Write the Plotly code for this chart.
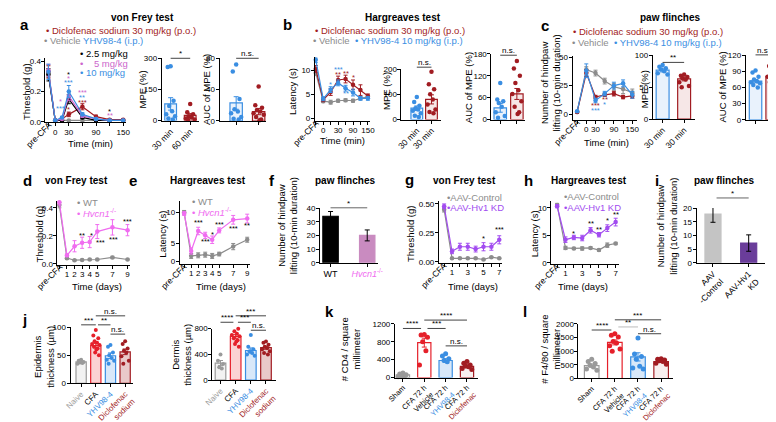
import plotly.graph_objects as go

W, H = 776, 422
FONT = "Liberation Sans, Arial, sans-serif"
DRED = "#a11c22"
GRAY = "#8c8c8c"
BLUE = "#3a8ee2"
PINK5 = "#cc66cc"
HVPINK = "#f06cf0"
PURPLE = "#a24cf0"
DPURPLE = "#6a3d9a"
RED = "#e5202a"
BLACK = "#000000"

# ======================= DATA =======================
# ---- a: von Frey time course (first value = pre-CFA) ----
time_a = [0, 15, 30, 60, 90, 120, 150]
a_vehicle = [0.32, 0.01, 0.01, 0.01, 0.01, 0.01, 0.01, 0.01]
a_vehicle_err = [0.03, 0.003, 0.003, 0.003, 0.003, 0.003, 0.003, 0.003]
a_diclo = [0.33, 0.01, 0.02, 0.05, 0.10, 0.035, 0.015, 0.015]
a_diclo_err = [0.04, 0.003, 0.006, 0.015, 0.02, 0.01, 0.005, 0.005]
a_yhv25 = [0.31, 0.01, 0.01, 0.15, 0.03, 0.01, 0.01, 0.01]
a_yhv25_err = [0.04, 0.003, 0.004, 0.03, 0.008, 0.004, 0.003, 0.003]
a_yhv5 = [0.34, 0.01, 0.02, 0.17, 0.04, 0.02, 0.01, 0.01]
a_yhv5_err = [0.04, 0.003, 0.005, 0.03, 0.01, 0.005, 0.003, 0.003]
a_yhv10 = [0.33, 0.01, 0.03, 0.20, 0.05, 0.02, 0.01, 0.01]
a_yhv10_err = [0.05, 0.003, 0.006, 0.04, 0.01, 0.005, 0.003, 0.003]
a_stars = [(11, 0.135, "*", PINK5), (11, 0.088, "***", BLUE),
           (30, 0.315, "*", BLACK), (30, 0.287, "*", PINK5), (30, 0.258, "***", BLUE),
           (30, 0.08, "*", DRED),
           (60, 0.195, "***", PINK5), (60, 0.16, "**", BLUE), (60, 0.128, "***", DRED),
           (120, 0.072, "*", BLACK), (120, 0.04, "**", PINK5)]
mpe_labels_a = ["30 min", "60 min"]
a_mpe_mean = [80, 25]
a_mpe_sem = [30, 8]
a_mpe_yhv = [262, 258, 95, 70, 45, 30, 20, 10, 5]
a_mpe_diclo = [80, 40, 30, 20, 15, 10, 5, 5]
a_auc_mean = [23, 12]
a_auc_sem = [8, 4]
a_auc_yhv = [72, 63, 28, 15, 12, 10, 5, 3, 2]
a_auc_diclo = [44, 20, 17, 14, 12, 10, 8, 5, 2, 1]

# ---- b: Hargreaves time course (first value = pre-CFA) ----
time_b = [0, 15, 30, 60, 90, 120, 150]
b_vehicle = [9.5, 3.6, 3.4, 3.7, 3.8, 3.7, 4.2, 4.5]
b_vehicle_err = [0.6, 0.3, 0.4, 0.3, 0.3, 0.3, 0.3, 0.3]
b_diclo = [10.3, 3.9, 5.5, 8.0, 8.2, 7.0, 5.9, 4.7]
b_diclo_err = [0.7, 0.4, 0.7, 0.8, 0.8, 1.0, 1.1, 0.4]
b_yhv = [12.2, 4.1, 6.0, 7.4, 6.3, 5.4, 4.2, 4.2]
b_yhv_err = [0.6, 0.4, 0.6, 0.6, 0.6, 0.7, 0.4, 0.4]
b_stars = [(15, 7.1, "*", BLUE), (30, 10.2, "***", BLUE), (30, 9.2, "**", DRED),
           (60, 9.4, "**", DRED), (60, 5.1, "**", BLUE), (90, 8.5, "*", DRED)]
mpe_labels_b = ["30 min", "30 min"]
b_mpe_mean = [45, 80]
b_mpe_sem = [9, 18]
b_mpe_yhv = [90, 70, 55, 45, 40, 35, 25, 15, 10]
b_mpe_diclo = [190, 140, 120, 100, 80, 60, 40, 30, 25]
b_auc_mean = [32, 70]
b_auc_sem = [12, 15]
b_auc_yhv = [100, 55, 50, 45, 35, 20, 10, 5]
b_auc_diclo = [160, 140, 120, 100, 80, 70, 50, 35, 20, 15]

# ---- c: paw flinches time course (first value = pre-CFA) ----
time_c = [0, 30, 60, 90, 120, 150]
c_vehicle = [2, 39, 36, 29, 24, 22, 19]
c_vehicle_err = [0.8, 2.5, 2.5, 2.5, 3, 4, 3]
c_diclo = [2, 36, 15, 17, 18, 15, 16]
c_diclo_err = [0.8, 3, 1.5, 1.5, 2, 1.5, 2]
c_yhv = [2.5, 38, 12, 18, 25, 27, 17]
c_yhv_err = [0.8, 6, 2, 2, 3, 3, 3]
c_stars = [(30, 7.8, "***", DRED), (30, 3.2, "***", BLUE), (60, 13, "**", DRED), (60, 8.5, "*", BLUE)]
mpe_labels_c = ["30 min", "30 min"]
c_mpe_mean = [77, 63]
c_mpe_sem = [3, 3]
c_mpe_yhv = [85, 82, 80, 78, 75, 72, 70]
c_mpe_diclo = [70, 68, 66, 64, 62, 58, 52, 50]
c_auc_mean = [72, 81]
c_auc_sem = [3, 4]
c_auc_yhv = [92, 88, 80, 75, 72, 70, 68, 65, 60]
c_auc_diclo = [110, 100, 98, 90, 85, 80, 75, 70, 68]

# ---- d / e: Hvcn1-/- vs WT (first value = pre-CFA) ----
days_de = [1, 2, 3, 4, 5, 7, 9]
d_wt = [0.42, 0.04, 0.025, 0.027, 0.03, 0.03, 0.045, 0.03]
d_wt_err = [0.02, 0.008, 0.005, 0.005, 0.005, 0.005, 0.008, 0.005]
d_ko = [0.44, 0.06, 0.125, 0.15, 0.155, 0.23, 0.26, 0.24]
d_ko_err = [0.02, 0.01, 0.04, 0.04, 0.04, 0.05, 0.055, 0.04]
d_stars = [(3, 0.20, "**"), (4.2, 0.205, "*"), (5.4, 0.155, "***"), (7.1, 0.175, "***"), (9, 0.30, "***")]
e_wt = [10.0, 3.0, 3.1, 3.2, 3.0, 3.3, 4.5, 5.6]
e_wt_err = [0.3, 0.4, 0.4, 0.4, 0.4, 0.3, 0.5, 0.4]
e_ko = [9.8, 3.8, 7.0, 6.3, 5.6, 7.1, 8.8, 9.0]
e_ko_err = [0.3, 0.5, 0.6, 0.5, 0.6, 0.4, 0.7, 0.7]
e_stars = [(2, 8.4, "***"), (3, 5.3, "***"), (4, 6.5, "*"), (5, 8.0, "***"), (7, 7.4, "***"), (9, 7.9, "**")]

# ---- f: paw flinches WT vs Hvcn1-/- ----
f_groups = ["WT", "<i>Hvcn1</i><sup>-/-</sup>"]
f_mean = [34, 20]
f_sem = [3.5, 4]

# ---- g / h: AAV-Control vs AAV-Hv1 KD (first value = pre-CFA) ----
days_gh = [1, 2, 3, 4, 5, 6, 7]
g_ctrl = [0.45, 0.03, 0.03, 0.03, 0.03, 0.02, 0.04, 0.03]
g_ctrl_err = [0.02, 0.005, 0.005, 0.005, 0.005, 0.005, 0.006, 0.005]
g_kd = [0.48, 0.09, 0.13, 0.13, 0.11, 0.13, 0.13, 0.19]
g_kd_err = [0.02, 0.02, 0.03, 0.03, 0.025, 0.035, 0.03, 0.035]
g_stars = [(5, 0.20, "*"), (7, 0.28, "***")]
h_ctrl = [10.5, 2.7, 2.6, 2.6, 2.7, 2.3, 3.2, 3.5]
h_ctrl_err = [0.3, 0.3, 0.2, 0.3, 0.2, 0.2, 0.4, 0.2]
h_kd = [10.3, 4.2, 4.6, 4.5, 5.9, 5.1, 6.3, 7.4]
h_kd_err = [0.3, 0.5, 0.4, 0.5, 0.5, 0.4, 0.6, 0.7]
h_stars = [(2, 5.4, "*"), (4, 7.2, "**"), (5, 6.0, "**"), (6, 7.6, "*"), (7, 8.8, "**")]

# ---- i: paw flinches AAV ----
i_groups = ["AAV<br>-Control", "AAV-Hv1<br>KD"]
i_mean = [17.8, 7.2]
i_sem = [3, 3]

# ---- j: skin thickness ----
j_groups = ["Naive", "CFA", "YHV98-4", "Diclofenac<br>sodium"]
j_epi_mean = [38, 67, 49, 56]
j_epi_sem = [2, 4, 5, 5]
j_epi_pts = [[42, 40, 38, 37, 36, 35],
             [95, 85, 80, 75, 72, 70, 68, 65, 62, 60, 55, 50],
             [68, 65, 55, 50, 45, 42, 40, 35],
             [75, 70, 62, 58, 55, 48, 40, 35]]
j_der_mean = [265, 680, 460, 505]
j_der_sem = [40, 30, 40, 25]
j_der_pts = [[400, 300, 250, 200, 180],
             [880, 850, 800, 760, 720, 700, 680, 650, 620, 600, 560, 520],
             [700, 520, 480, 450, 420, 400, 380],
             [600, 580, 550, 520, 500, 480, 450, 420, 400]]

# ---- k / l: immune cells ----
kl_groups = ["Sham", "CFA 72 h<br>Vehicle", "CFA 72 h<br>YHV98-4", "CFA 72 h<br>Diclofenac"]
k_mean = [60, 780, 380, 250]
k_sem = [15, 100, 40, 30]
k_pts = [[100, 80, 60, 40, 30, 20],
         [960, 950, 900, 800, 600, 280],
         [530, 480, 420, 380, 350],
         [360, 320, 280, 260, 240, 200, 180]]
l_mean = [470, 1320, 790, 620]
l_sem = [60, 90, 150, 30]
l_pts = [[700, 620, 550, 480, 420, 350, 300],
         [1640, 1580, 1520, 1350, 1300, 1200, 1080, 1000],
         [1480, 900, 800, 700, 450, 380, 350],
         [720, 700, 680, 650, 620, 560, 520]]

# ======================= HELPERS =======================
fig = go.Figure()
LAY = {}
shapes = []
anns = []
AX = []
TICK = 8


def mk(box, xcal, ycal, xt, xtt, yt, ytt=None, xangle=0, xfont=TICK):
    k = len(AX) + 1
    x0, x1, ytop, ybot = box
    sx = (xcal[2] - xcal[0]) / (xcal[3] - xcal[1])
    sy = (ycal[2] - ycal[0]) / (ycal[3] - ycal[1])
    xr = [xcal[0] + (x0 - xcal[1]) * sx, xcal[0] + (x1 - xcal[1]) * sx]
    yr = [ycal[0] + (ybot - ycal[1]) * sy, ycal[0] + (ytop - ycal[1]) * sy]
    suf = "" if k == 1 else str(k)
    base = dict(showline=True, linecolor="black", linewidth=1, ticks="outside", ticklen=3,
                tickwidth=1, tickcolor="black", showgrid=False, zeroline=False, fixedrange=True,
                ticklabelstandoff=-1)
    major_v = [v for v, t in zip(xt, xtt) if t]
    major_t = [t for t in xtt if t]
    minor_v = [v for v, t in zip(xt, xtt) if not t]
    LAY["xaxis" + suf] = dict(base, domain=[x0 / W, x1 / W], range=xr, anchor="y" + suf,
                              tickmode="array", tickvals=major_v, ticktext=major_t, tickangle=xangle,
                              minor=dict(tickmode="array", tickvals=minor_v, ticks="outside",
                                         ticklen=3, tickwidth=1, tickcolor="black", showgrid=False),
                              tickfont=dict(size=xfont, family=FONT, color="black"))
    LAY["yaxis" + suf] = dict(base, domain=[1 - ybot / H, 1 - ytop / H], range=yr, anchor="x" + suf,
                              tickmode="array", tickvals=yt,
                              ticktext=ytt if ytt else [str(v) for v in yt],
                              tickfont=dict(size=TICK, family=FONT, color="black"))
    ax = dict(xa="x" + suf, ya="y" + suf, yb=ybot,
              px=lambda v: xcal[1] + (v - xcal[0]) / sx,
              py=lambda v: ycal[1] + (v - ycal[0]) / sy)
    AX.append(ax)
    return ax


def T(x, y, text, size=9, color="black", bold=False, angle=0, xa="center", ya="middle"):
    if bold:
        text = "<b>" + text + "</b>"
    anns.append(dict(x=x / W, y=1 - y / H, xref="paper", yref="paper", text=text, showarrow=False,
                     font=dict(size=size, color=color, family=FONT), textangle=angle,
                     xanchor=xa, yanchor=ya, borderpad=0))


def Ln(x0, y0, x1, y1, color="#444444", width=1):
    shapes.append(dict(type="line", xref="paper", yref="paper", x0=x0 / W, y0=1 - y0 / H,
                       x1=x1 / W, y1=1 - y1 / H, line=dict(color=color, width=width)))


def bracket(ax, c0, c1, yv, text, color="#444444"):
    y = ax["py"](yv)
    Ln(ax["px"](c0), y, ax["px"](c1), y, color)
    T((ax["px"](c0) + ax["px"](c1)) / 2, y + 1, text, size=8, ya="bottom")


def series(ax, x, y, e, color):
    fig.add_trace(go.Scatter(x=x, y=y, mode="lines+markers",
                             error_y=dict(type="data", array=e, color=color, thickness=1, width=2),
                             line=dict(color=color, width=1.2), marker=dict(size=4.5, color=color),
                             xaxis=ax["xa"], yaxis=ax["ya"], cliponaxis=False, showlegend=False))


def star(ax, x, v, text, color):
    T(ax["px"](x), ax["py"](v), text, size=7.5, color=color)


PAT = [0, -0.6, 0.6, -0.3, 0.3, -0.9, 0.9, -0.45, 0.45, 0.15, -0.15, 0.75]


def bars(ax, means, sems, pts, edges, fills, width, errc=None, jw=0.3, ms=4.5):
    for i in range(len(means)):
        fig.add_trace(go.Bar(x=[i], y=[means[i]], width=width,
                             marker=dict(color=fills[i], line=dict(color=edges[i], width=1.2)),
                             error_y=dict(type="data", array=[sems[i]], color=errc or edges[i],
                                          thickness=1, width=2.5),
                             xaxis=ax["xa"], yaxis=ax["ya"], showlegend=False))
        if pts:
            p = pts[i]
            xs = [i + jw * PAT[j % len(PAT)] for j in range(len(p))]
            fig.add_trace(go.Scatter(x=xs, y=p, mode="markers",
                                     marker=dict(size=ms, color=edges[i]),
                                     xaxis=ax["xa"], yaxis=ax["ya"], cliponaxis=False,
                                     showlegend=False))


def pre_label(ax, xpre):
    T(ax["px"](xpre) - 10, ax["yb"] + 13, "pre-CFA", size=8.5, angle=-45)


def span(c, t):
    return '<span style="color:%s">%s</span>' % (c, t)


BFILL = "#e9f2fc"
RFILL = "#f6e7e7"

# ======================= ROW 1 =======================
PRE_A = -15
xa_ = [PRE_A] + time_a
axA = mk((26, 108, 48, 114.5), (0, 36, 150, 105.5), (0, 114, 0.4, 51),
         [PRE_A, 0, 30, 60, 90, 120, 150], ["", "0", "30", "", "90", "", "150"],
         [0, 0.2, 0.4], ["0.0", "0.2", "0.4"])
series(axA, xa_, a_vehicle, a_vehicle_err, GRAY)
series(axA, xa_, a_diclo, a_diclo_err, DRED)
series(axA, xa_, a_yhv25, a_yhv25_err, BLACK)
series(axA, xa_, a_yhv5, a_yhv5_err, PINK5)
series(axA, xa_, a_yhv10, a_yhv10_err, BLUE)
for s in a_stars:
    star(axA, *s)
pre_label(axA, PRE_A)
axAm = mk((145, 183, 48, 112.5), (0, 154, 1, 174), (0, 112.5, 300, 48),
          [0, 1], mpe_labels_a, [0, 150, 300], xangle=-45, xfont=8.5)
bars(axAm, a_mpe_mean, a_mpe_sem, [a_mpe_yhv, a_mpe_diclo], [BLUE, DRED], [BFILL, RFILL], 0.6, jw=0.25)
bracket(axAm, 0, 1, 300, "*")
axAa = mk((204, 252, 48, 113), (0, 221, 1, 244), (0, 113, 80, 48),
          [0, 1], ["", ""], [0, 40, 80])
bars(axAa, a_auc_mean, a_auc_sem, [a_auc_yhv, a_auc_diclo], [BLUE, DRED], [BFILL, RFILL], 0.55, jw=0.25)
bracket(axAa, 0, 1, 80, "n.s.")

xb_ = [-1] + list(range(len(time_b)))
axB = mk((301.5, 358, 47, 112.5), (0, 310, 6, 355.7), (0, 110.5, 10, 60.5),
         [-1, 0, 1, 2, 3, 4, 5, 6], ["", "0", "", "30", "", "90", "", "150"], [0, 5, 10])
series(axB, xb_, b_vehicle, b_vehicle_err, GRAY)
series(axB, xb_, b_diclo, b_diclo_err, DRED)
series(axB, xb_, b_yhv, b_yhv_err, BLUE)
for t, v, s, c in b_stars:
    star(axB, time_b.index(t), v, s, c)
pre_label(axB, -1)
axBm = mk((390, 430, 59.3, 111.5), (0, 405.7, 1, 420.7), (0, 111.5, 200, 59.3),
          [0, 1], mpe_labels_b, [0, 100, 200], xangle=-45, xfont=8.5)
bars(axBm, b_mpe_mean, b_mpe_sem, [b_mpe_yhv, b_mpe_diclo], [BLUE, DRED], [BFILL, RFILL], 0.8, jw=0.3)
bracket(axBm, 0, 1, 208, "n.s.")
axBa = mk((482, 516, 43.3, 111.5), (0, 491, 1, 508), (0, 111.5, 180, 43.3),
          [0, 1], ["", ""], [0, 60, 120, 180])
bars(axBa, b_auc_mean, b_auc_sem, [b_auc_yhv, b_auc_diclo], [BLUE, DRED], [BFILL, RFILL], 0.75, jw=0.3)
bracket(axBa, 0, 1, 176, "n.s.")

PRE_C = -30
xc_ = [PRE_C] + time_c
axC = mk((565, 631, 46, 111.5), (0, 579, 150, 626), (0, 106, 50, 46.7),
         [PRE_C, 0, 30, 60, 90, 120, 150], ["", "0", "30", "", "90", "", "150"], [0, 25, 50])
series(axC, xc_, c_vehicle, c_vehicle_err, GRAY)
series(axC, xc_, c_diclo, c_diclo_err, DRED)
series(axC, xc_, c_yhv, c_yhv_err, BLUE)
for s in c_stars:
    star(axC, *s)
pre_label(axC, PRE_C)
axCm = mk((647, 690, 45, 111), (0, 657, 1, 679), (0, 111, 100, 45),
          [0, 1], mpe_labels_c, [0, 50, 100], xangle=-45, xfont=8.5)
bars(axCm, c_mpe_mean, c_mpe_sem, [c_mpe_yhv, c_mpe_diclo], [BLUE, DRED], [BFILL, RFILL], 0.6, jw=0.25)
bracket(axCm, 0, 1, 89, "**")
axCa = mk((742, 776, 45, 111.7), (0, 752, 1, 769), (0, 111.7, 120, 45),
          [0, 1], ["", ""], [0, 30, 60, 90, 120])
bars(axCa, c_auc_mean, c_auc_sem, [c_auc_yhv, c_auc_diclo], [BLUE, DRED], [BFILL, RFILL], 0.75, jw=0.3)
bracket(axCa, 0, 1, 121, "n.s.")

# ======================= ROW 2 =======================
xd_ = [0] + days_de
axD = mk((38.3, 112, 196, 262), (1, 48, 9, 110), (0, 261, 0.4, 203),
         xd_, [""] + [str(d) for d in days_de], [0, 0.2, 0.4], ["0.0", "0.2", "0.4"])
series(axD, xd_, d_wt, d_wt_err, GRAY)
series(axD, xd_, d_ko, d_ko_err, HVPINK)
for x, v, s in d_stars:
    star(axD, x, v, s, BLACK)
pre_label(axD, 0)

axE = mk((163.3, 235, 196, 261), (1, 175, 9, 232.3), (5, 240, 10, 207.7),
         xd_, [""] + [str(d) for d in days_de], [2.1, 5, 10], ["0", "5", "10"])
series(axE, xd_, e_wt, e_wt_err, GRAY)
series(axE, xd_, e_ko, e_ko_err, HVPINK)
for x, v, s in e_stars:
    star(axE, x, v, s, BLACK)
pre_label(axE, 0)

axF = mk((306.7, 366, 203.3, 260), (0, 317.5, 1, 355), (0, 260, 40, 203.3),
         [0, 1], [f_groups[0], span(HVPINK, f_groups[1])], [0, 10, 20, 30, 40], xfont=9)
bars(axF, f_mean, f_sem, None, ["#000000", "#c98bc0"], ["#000000", "#c98bc0"], 0.42, errc="#000000")
bracket(axF, 0, 1, 40.2, "*", color="#666666")

xg_ = [0] + days_gh
axG = mk((428.3, 493, 196, 260), (1, 441.7, 7, 490), (0, 259, 0.5, 199),
         xg_, ["", "1", "", "3", "", "5", "", "7"], [0, 0.25, 0.5], ["0.00", "0.25", "0.50"])
series(axG, xg_, g_ctrl, g_ctrl_err, GRAY)
series(axG, xg_, g_kd, g_kd_err, PURPLE)
for x, v, s in g_stars:
    star(axG, x, v, s, BLACK)
pre_label(axG, 0)

axH = mk((543.3, 612, 196, 261), (1, 557.7, 7, 609), (0, 260, 10, 203),
         xg_, ["", "1", "", "3", "", "5", "", "7"], [0, 5, 10])
series(axH, xg_, h_ctrl, h_ctrl_err, GRAY)
series(axH, xg_, h_kd, h_kd_err, PURPLE)
for x, v, s in h_stars:
    star(axH, x, v, s, BLACK)
pre_label(axH, 0)

axI = mk((691.7, 762, 203.3, 260), (0, 708.5, 1, 745), (0, 260, 20, 203.3),
         [0, 1], i_groups, [0, 5, 10, 15, 20], xangle=-45, xfont=8.5)
bars(axI, i_mean, i_sem, None, ["#c4c4c4", DPURPLE], ["#c4c4c4", DPURPLE], 0.45, errc="#000000")
bracket(axI, 0.1, 1, 23.7, "*", color="#666666")

# ======================= ROW 3 =======================
JEDGE = ["#9a9a9a", RED, BLUE, DRED]
JFILL = ["#f2f2f2", "#fbd3d3", "#d8e8f9", "#e9c9c9"]
jt = [span("#9a9a9a", j_groups[0]), j_groups[1], span(BLUE, j_groups[2]), span(DRED, j_groups[3])]
axJ1 = mk((51.7, 116, 326.7, 385), (0, 62.5, 3, 107.5), (0, 385, 100, 326.7),
          [0, 1, 2, 3], jt, [0, 50, 100], xangle=-45, xfont=8)
bars(axJ1, j_epi_mean, j_epi_sem, j_epi_pts, JEDGE, JFILL, 0.7, jw=0.28, ms=4)
bracket(axJ1, 0, 1, 104, "***")
bracket(axJ1, 1.15, 2, 104, "**")
bracket(axJ1, 1, 3, 120, "n.s.")
bracket(axJ1, 2, 3, 87.5, "n.s.")

axJ2 = mk((196.7, 262, 328.3, 381.7), (0, 205, 3, 251.5), (0, 381.7, 800, 328.3),
          [0, 1, 2, 3], jt, [0, 400, 800], xangle=-45, xfont=8)
bars(axJ2, j_der_mean, j_der_sem, j_der_pts, JEDGE, JFILL, 0.7, jw=0.28, ms=4)
bracket(axJ2, 0, 0.85, 899, "****")
bracket(axJ2, 1.15, 2, 899, "***")
bracket(axJ2, 1, 3, 999, "***")
bracket(axJ2, 2, 3, 775, "n.s.")

KEDGE = ["#9a9a9a", RED, BLUE, DRED]
KFILL = ["#ffffff", "#ffffff", "#d8e8f9", "#f8efef"]
kt = [kl_groups[0], kl_groups[1],
      kl_groups[2].replace("YHV98-4", span(BLUE, "YHV98-4")),
      kl_groups[3].replace("Diclofenac", span(DRED, "Diclofenac"))]
axK = mk((383.3, 468, 323.3, 379), (0, 391.5, 3, 457), (0, 379, 1200, 323.3),
         [0, 1, 2, 3], kt, [0, 400, 800, 1200], xangle=-45, xfont=7.5)
bars(axK, k_mean, k_sem, k_pts, KEDGE, KFILL, 0.62, jw=0.25, ms=5)
bracket(axK, 0, 0.85, 1096, "****")
bracket(axK, 1.15, 2, 1096, "***")
bracket(axK, 1, 3, 1283, "****")
bracket(axK, 2, 3, 707, "n.s.")

axL = mk((571, 668, 323.3, 380), (0, 584.5, 3, 655.5), (0, 380, 2000, 323.3),
         [0, 1, 2, 3], kt, [0, 500, 1000, 1500, 2000], xangle=-45, xfont=7.5)
bars(axL, l_mean, l_sem, l_pts, KEDGE, KFILL, 0.63, jw=0.25, ms=5)
bracket(axL, 0, 0.85, 1773, "****")
bracket(axL, 1.15, 2, 1885, "**", color="#bbbbbb")
bracket(axL, 1, 3, 2146, "***")
bracket(axL, 2, 3, 1637, "n.s.")

# ======================= TEXT =======================
for lt, x, y in [("a", 5, 13), ("b", 274, 13), ("c", 537, 14), ("d", 8, 175), ("e", 116, 175),
                 ("f", 258, 175), ("g", 398, 174), ("h", 520, 175), ("i", 651, 175),
                 ("j", 5, 319), ("k", 316, 311), ("l", 516, 311)]:
    T(x, y, lt, size=15, bold=True)

for tt, x, y in [("von Frey test", 125, 6), ("Hargreaves test", 392, 6), ("paw flinches", 665, 6),
                 ("von Frey test", 58, 175), ("Hargreaves test", 192, 175), ("paw flinches", 332, 175),
                 ("von Frey test", 454, 175), ("Hargreaves test", 582, 175), ("paw flinches", 720, 175)]:
    T(x, y, tt, size=10, bold=True)

T(26, 19, span(DRED, "• Diclofenac sodium 30 mg/kg (p.o.)"), size=9.5, xa="left")
T(24, 30, span(GRAY, "• Vehicle") + " " + span(BLUE, "YHV98-4 (i.p.)"), size=9.5, xa="left")
T(60, 43, "• 2.5 mg/kg", size=9.5, xa="left")
T(60, 53, span(PINK5, "•  \u20075 mg/kg"), size=9.5, xa="left")
T(60, 63, span(BLUE, "• 10 mg/kg"), size=9.5, xa="left")
T(301, 19, span(DRED, "• Diclofenac sodium 30 mg/kg (p.o.)"), size=9.5, xa="left")
T(299, 30, span(GRAY, "• Vehicle") + "  " + span(BLUE, "• YHV98-4 10 mg/kg (i.p.)"), size=9.5, xa="left")
T(564, 20, span(DRED, "• Diclofenac sodium 30 mg/kg (p.o.)"), size=9.5, xa="left")
T(563, 32, span(GRAY, "• Vehicle") + "  " + span(BLUE, "• YHV98-4 10 mg/kg (i.p.)"), size=9.5, xa="left")

T(57, 198, span(GRAY, "• WT"), size=9.5, xa="left")
T(57, 208, span(HVPINK, "• <i>Hvcn1</i><sup>-/-</sup>"), size=9.5, xa="left")
T(175, 197, span(GRAY, "• WT"), size=9.5, xa="left")
T(175, 207, span(HVPINK, "• <i>Hvcn1</i><sup>-/-</sup>"), size=9.5, xa="left")
T(436, 192, span(GRAY, "•AAV-Control"), size=9.5, xa="left")
T(436, 203, span(PURPLE, "•AAV-Hv1 KD"), size=9.5, xa="left")
T(555, 191, span(GRAY, "•AAV-Control"), size=9.5, xa="left")
T(555, 203, span(PURPLE, "•AAV-Hv1 KD"), size=9.5, xa="left")

HP = "Number of hindpaw<br>lifting (10-min duration)"
for tt, x, y, ang in [("Threshold (g)", 6, 82, -90), ("Time (min)", 72, 136, 0),
                      ("MPE (%)", 125, 80, -90), ("AUC of MPE (%)", 190, 80, -90),
                      ("Latency (s)", 278, 82, -90), ("Time (min)", 330, 133, 0),
                      ("MPE (%)", 374, 82, -90), ("AUC of MPE (%)", 458, 78, -90),
                      (HP, 542, 74, -90), ("Time (min)", 600, 135, 0),
                      ("MPE (%)", 638, 80, -90), ("AUC of MPE (%)", 718, 78, -90),
                      ("Threshold (g)", 20, 230, -90), ("Time (days)", 79, 285, 0),
                      ("Latency (s)", 146, 230, -90), ("Time (days)", 206, 285, 0),
                      (HP, 273, 222, -90),
                      ("Threshold (g)", 400, 230, -90), ("Time (days)", 463, 285, 0),
                      ("Latency (s)", 526, 230, -90), ("Time (days)", 576, 285, 0),
                      (HP, 661, 222, -90),
                      ("Epidermis<br>thickness (µm)", 24, 357, -90),
                      ("Dermis<br>thickness (µm)", 165, 355, -90),
                      ("# CD4 / square<br>millimeter", 338, 350, -90),
                      ("# F4/80 / square<br>millimeter", 542, 350, -90)]:
    T(x, y, tt, size=9.5, angle=ang)

fig.update_layout(width=W, height=H, margin=dict(l=0, r=0, t=0, b=0), autosize=False,
                  paper_bgcolor="white", plot_bgcolor="rgba(0,0,0,0)", barmode="overlay",
                  showlegend=False, font=dict(family=FONT, size=9, color="black"),
                  shapes=shapes, annotations=anns, **LAY)
fig.write_html("out.html", config={"displayModeBar": False})
